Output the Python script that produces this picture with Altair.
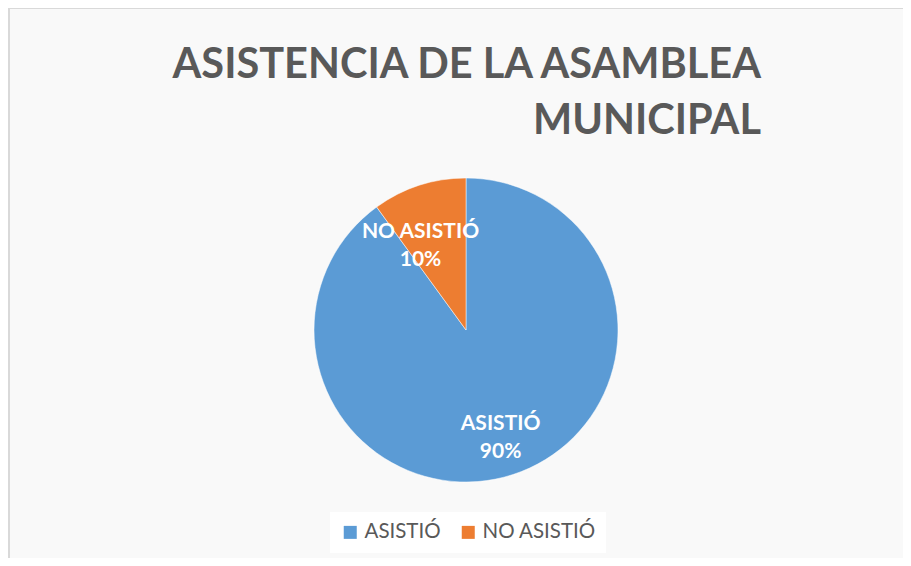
import altair as alt
import pandas as pd

categories = ["ASISTIÓ", "NO ASISTIÓ"]
values = [90, 10]
colors = ["#5B9BD5", "#ED7D31"]
title_lines = ["ASISTENCIA DE LA ASAMBLEA", "MUNICIPAL"]

df = pd.DataFrame({"categoria": categories, "valor": values, "orden": list(range(len(categories)))})

W, H = 895, 550
CX, CY, R = 458, 322, 152
BORDER = "#d9d9d9"

color = alt.Color(
    "categoria:N",
    scale=alt.Scale(domain=categories, range=colors),
    legend=alt.Legend(
        title=None,
        orient="none",
        legendX=322,
        legendY=504,
        direction="horizontal",
        symbolType="square",
        symbolSize=169,
        symbolStrokeWidth=0,
        labelFont="Lato",
        labelFontSize=20.5,
        labelColor="#595959",
        labelOffset=4,
        columnPadding=17,
        fillColor="#ffffff",
        padding=10,
    ),
)

base = alt.Chart(df).encode(
    theta=alt.Theta("valor:Q", stack=True, scale=alt.Scale(domain=[0, 100])),
    order=alt.Order("orden:Q"),
)

pie = base.mark_arc(outerRadius=R, stroke="#ffffff", strokeWidth=0.5).encode(
    color=color, x=alt.value(CX), y=alt.value(CY)
)

label_base = alt.Chart(df).transform_window(
    fin="sum(valor)", sort=[alt.SortField("orden")]
).transform_calculate(
    medio="datum.fin - datum.valor / 2",
    etiqueta="datum.categoria + '\\n' + datum.valor + '%'",
).encode(
    theta=alt.Theta("medio:Q", stack=None, scale=alt.Scale(domain=[0, 100])),
    text="etiqueta:N",
    x=alt.value(CX),
    y=alt.value(CY),
)

lbl_style = dict(font="Lato", fontWeight="bold", fontSize=21, color="#ffffff",
                 lineBreak="\n", lineHeight=28, align="center", baseline="middle")

lbl_a = label_base.transform_filter(alt.datum.orden == 0).mark_text(radius=112, dx=0, dy=-13, **lbl_style)
lbl_b = label_base.transform_filter(alt.datum.orden == 1).mark_text(radius=89, dx=-18, dy=-13, **lbl_style)

# chart frame: only top and left edges are visible in the reference (the rest is cropped)
frame_top = alt.Chart(df).mark_rule(color=BORDER, strokeWidth=2).encode(
    x=alt.value(0), x2=alt.value(W), y=alt.value(0)
)
frame_left = alt.Chart(df).mark_rule(color=BORDER, strokeWidth=2).encode(
    x=alt.value(1), y=alt.value(0), y2=alt.value(H)
)

chart = alt.layer(frame_top, frame_left, pie, lbl_a, lbl_b).properties(
    width=W,
    height=H,
    autosize=alt.AutoSizeParams(type="none"),
    padding=0,
    title=alt.TitleParams(
        text=title_lines,
        anchor="end",
        align="right",
        baseline="alphabetic",
        dx=-143,
        dy=168,
        offset=0,
        lineHeight=56,
        font="Lato",
        fontSize=41.5,
        fontWeight="bold",
        color="#595959",
    ),
).configure_view(stroke=None, fill="#f9f9f9")

chart.save("out.html", embed_options={"renderer": "svg", "actions": False})
